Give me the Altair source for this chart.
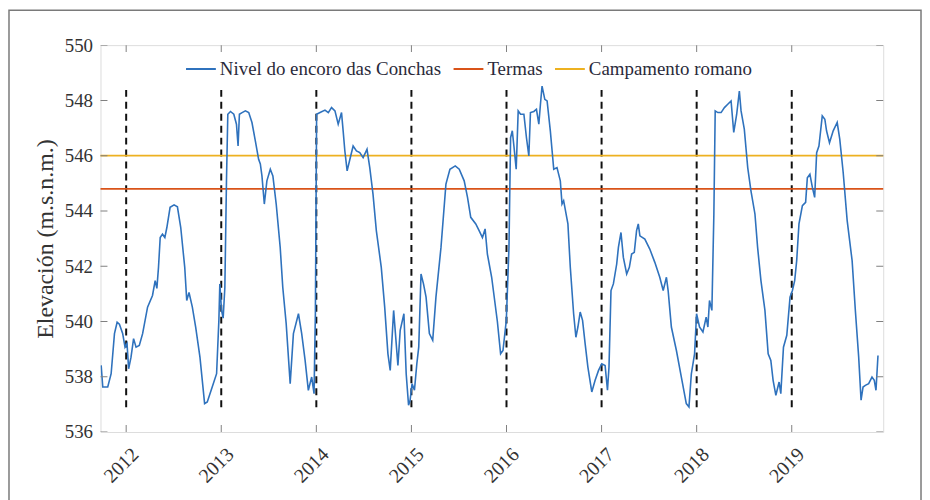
import altair as alt
import pandas as pd

# ---------------- data ----------------
years = [
    2011.737, 2011.754, 2011.806, 2011.842, 2011.877, 2011.905, 2011.929, 2011.963, 2011.988,
    2012.009, 2012.026, 2012.051, 2012.078, 2012.104, 2012.138, 2012.173, 2012.225, 2012.277,
    2012.305, 2012.323, 2012.340, 2012.358, 2012.382, 2012.407, 2012.428, 2012.462, 2012.504,
    2012.539, 2012.574, 2012.616, 2012.637, 2012.661, 2012.696, 2012.731, 2012.776, 2012.825,
    2012.853, 2012.905, 2012.951, 2012.975, 2012.985,
    2013.003, 2013.020, 2013.038, 2013.055, 2013.069, 2013.097, 2013.132, 2013.160, 2013.177,
    2013.191, 2013.219, 2013.254, 2013.289, 2013.323, 2013.359, 2013.393, 2013.411, 2013.428,
    2013.453, 2013.480, 2013.516, 2013.543, 2013.578, 2013.620, 2013.647, 2013.683, 2013.725,
    2013.759, 2013.812, 2013.846, 2013.882, 2013.916, 2013.951, 2013.976, 2013.990,
    2014.003, 2014.039, 2014.091, 2014.126, 2014.160, 2014.196, 2014.230, 2014.265, 2014.282,
    2014.300, 2014.324, 2014.353, 2014.387, 2014.422, 2014.457, 2014.492, 2014.533, 2014.562,
    2014.596, 2014.631, 2014.683, 2014.719, 2014.753, 2014.777, 2014.813, 2014.858, 2014.882,
    2014.921, 2014.945, 2014.970, 2014.986,
    2015.007, 2015.032, 2015.057, 2015.077, 2015.101, 2015.127, 2015.154, 2015.189, 2015.224,
    2015.258, 2015.311, 2015.363, 2015.405, 2015.461, 2015.503, 2015.555, 2015.590, 2015.624,
    2015.677, 2015.712, 2015.747, 2015.775, 2015.799, 2015.844, 2015.904, 2015.938, 2015.963,
    2015.998,
    2016.026, 2016.043, 2016.061, 2016.078, 2016.102, 2016.123, 2016.148, 2016.183, 2016.210,
    2016.235, 2016.252, 2016.288, 2016.315, 2016.340, 2016.357, 2016.374, 2016.403, 2016.427,
    2016.461, 2016.497, 2016.531, 2016.566, 2016.584, 2016.601, 2016.646, 2016.671, 2016.706,
    2016.730, 2016.751, 2016.775, 2016.800, 2016.827, 2016.856, 2016.897, 2016.932, 2016.968,
    2017.002, 2017.037, 2017.062, 2017.078, 2017.099, 2017.124, 2017.159, 2017.177, 2017.204,
    2017.229, 2017.264, 2017.292, 2017.316, 2017.344, 2017.368, 2017.386, 2017.403, 2017.455,
    2017.507, 2017.560, 2017.612, 2017.648, 2017.682, 2017.700, 2017.734, 2017.787, 2017.839,
    2017.891, 2017.919, 2017.944, 2017.978, 2017.999,
    2018.030, 2018.066, 2018.100, 2018.118, 2018.135, 2018.160, 2018.181, 2018.195, 2018.223,
    2018.257, 2018.292, 2018.327, 2018.362, 2018.390, 2018.421, 2018.449, 2018.467, 2018.501,
    2018.537, 2018.571, 2018.613, 2018.641, 2018.676, 2018.718, 2018.752, 2018.780, 2018.804,
    2018.833, 2018.867, 2018.885, 2018.913, 2018.948, 2018.982,
    2019.007, 2019.031, 2019.052, 2019.076, 2019.112, 2019.146, 2019.164, 2019.191, 2019.217,
    2019.241, 2019.262, 2019.286, 2019.321, 2019.348, 2019.366, 2019.397, 2019.436, 2019.478,
    2019.505, 2019.541, 2019.583, 2019.635, 2019.669, 2019.704, 2019.729, 2019.750, 2019.774,
    2019.809, 2019.844, 2019.868, 2019.886, 2019.907,
]

level = [
    538.41, 537.63, 537.63, 538.11, 539.56, 539.97, 539.90, 539.57, 539.07,
    539.20, 538.29, 538.71, 539.38, 539.07, 539.13, 539.56, 540.52, 540.94,
    541.48, 541.20, 541.96, 543.04, 543.16, 543.04, 543.40, 544.13, 544.22,
    544.15, 543.40, 541.96, 540.76, 541.05, 540.52, 539.80, 538.71, 537.03,
    537.09, 537.63, 538.11, 540.04, 541.36,
    540.40, 540.12, 541.24, 545.09, 547.50, 547.60, 547.50, 547.14, 546.35,
    547.50, 547.56, 547.62, 547.56, 547.20, 546.53, 545.87, 545.70, 545.27,
    544.25, 545.09, 545.51, 545.27, 544.25, 542.68, 541.24, 539.92, 537.75,
    539.56, 540.28, 539.56, 538.59, 537.51, 537.99, 537.39, 540.28,
    547.50, 547.56, 547.65, 547.56, 547.74, 547.62, 547.14, 547.56, 546.90,
    546.17, 545.45, 545.87, 546.35, 546.17, 546.11, 545.93, 546.23, 545.57,
    544.61, 543.29, 541.96, 540.52, 538.83, 538.23, 540.40, 538.41, 539.68,
    540.28, 538.11, 536.97, 537.15,
    537.75, 537.51, 538.47, 539.07, 541.72, 541.36, 540.88, 539.56, 539.32,
    540.88, 542.68, 544.97, 545.51, 545.63, 545.51, 545.09, 544.49, 543.77,
    543.53, 543.29, 543.04, 543.35, 542.44, 541.60, 540.00, 538.83, 538.95,
    540.04,
    542.68, 546.65, 546.90, 546.35, 545.51, 547.62, 547.50, 547.50, 546.65,
    545.99, 547.56, 547.60, 547.68, 547.14, 547.86, 548.52, 548.04, 547.98,
    546.90, 545.51, 545.57, 545.09, 544.25, 544.37, 543.53, 541.96, 540.28,
    539.43, 539.80, 540.34, 540.04, 539.20, 538.35, 537.45, 537.87, 538.23,
    538.47, 538.41, 537.51, 538.35, 541.12, 541.36, 542.08, 542.68, 543.22,
    542.32, 541.72, 541.96, 542.44, 542.50, 543.29, 543.53, 543.10, 542.98,
    542.62, 542.14, 541.60, 541.12, 541.60, 541.12, 539.80, 538.95, 537.99,
    537.03, 536.91, 538.10, 538.83, 540.28,
    539.80, 539.62, 540.16, 539.80, 540.76, 540.40, 543.89, 547.62, 547.56,
    547.56, 547.74, 547.86, 547.98, 546.84, 547.50, 548.34, 547.62, 546.96,
    545.57, 544.73, 543.89, 542.68, 541.48, 540.40, 538.83, 538.59, 537.87,
    537.33, 537.81, 537.39, 539.07, 539.50, 540.88,
    541.12, 541.48, 542.20, 543.53, 544.19, 544.31, 545.20, 545.33, 544.85,
    544.49, 546.11, 546.35, 547.44, 547.32, 546.90, 546.47, 546.90, 547.20,
    546.60, 545.39, 543.65, 542.20, 540.40, 538.71, 537.15, 537.63, 537.69,
    537.75, 537.99, 537.87, 537.51, 538.77,
]

series_names = ["Nivel do encoro das Conchas", "Termas", "Campamento romano"]
series_colors = ["#2f72bd", "#d95319", "#edb120"]
ref_levels = [544.8, 546.0]          # Termas, Campamento romano

year_ticks = [2012, 2013, 2014, 2015, 2016, 2017, 2018, 2019]
elev_ticks = [536, 538, 540, 542, 544, 546, 548, 550]
dash_bottom = [536.9] * len(year_ticks)
dash_top = [548.5] * len(year_ticks)

x_domain = [2011.73, 2019.962]
y_domain = [536, 550]

# ---------------- tables ----------------
df_line = pd.DataFrame({"t": years, "v": level, "serie": series_names[0]})
df_ref = pd.DataFrame({"serie": series_names[1:], "v": ref_levels})
df_dash = pd.DataFrame({"t": year_ticks, "y1": dash_bottom, "y2": dash_top})
df_xt = pd.DataFrame({"t": year_ticks})
df_yt = pd.DataFrame({"v": elev_ticks})

W, H = 787, 389
FONT = "Liberation Serif"
GRAY = "#808080"

xs = alt.Scale(domain=x_domain, nice=False, zero=False)
ys = alt.Scale(domain=y_domain, nice=False, zero=False)

color = alt.Color(
    "serie:N",
    scale=alt.Scale(domain=series_names, range=series_colors),
    legend=alt.Legend(
        orient="none", legendX=85, legendY=8, direction="horizontal", title=None,
        symbolType="stroke", symbolSize=900, symbolStrokeWidth=2,
        labelFont=FONT, labelFontSize=19, labelColor="#2a2a3a", labelLimit=0,
        labelOffset=3, columnPadding=8, padding=0,
    ),
    sort=series_names,
)

x_axis = alt.Axis(
    values=year_ticks, format="d", labelAngle=-45, labelAlign="right",
    labelBaseline="middle", labelPadding=19, labelOffset=9, ticks=False, domain=False,
    grid=False, title=None, labelFont=FONT, labelFontSize=20, labelColor="#333333",
)
y_axis = alt.Axis(
    values=elev_ticks, ticks=False, domain=False, grid=False,
    title="Elevación (m.s.n.m.)", titleFont=FONT, titleFontSize=24,
    titleFontWeight="normal", titleColor="#333333", titlePadding=7,
    labelFont=FONT, labelFontSize=19, labelColor="#333333", labelPadding=8,
)

line = alt.Chart(df_line).mark_line(strokeWidth=1.6, clip=True).encode(
    x=alt.X("t:Q", scale=xs, axis=x_axis),
    y=alt.Y("v:Q", scale=ys, axis=y_axis),
    color=color,
)

refs = alt.Chart(df_ref).mark_rule(strokeWidth=1.8).encode(
    y=alt.Y("v:Q", scale=ys),
    color=color,
)

dashes = alt.Chart(df_dash).mark_rule(
    strokeDash=[7, 5], strokeWidth=2, color="#111111"
).encode(
    x=alt.X("t:Q", scale=xs),
    y=alt.Y("y1:Q", scale=ys),
    y2="y2:Q",
)

tick_style = dict(thickness=1, size=14, color=GRAY, clip=True, opacity=1)
ticks_left = alt.Chart(df_yt).mark_tick(orient="horizontal", **tick_style).encode(
    y=alt.Y("v:Q", scale=ys), x=alt.value(0))
ticks_right = alt.Chart(df_yt).mark_tick(orient="horizontal", **tick_style).encode(
    y=alt.Y("v:Q", scale=ys), x=alt.value(W))
ticks_bottom = alt.Chart(df_xt).mark_tick(orient="vertical", **tick_style).encode(
    x=alt.X("t:Q", scale=xs), y=alt.value(H))
ticks_top = alt.Chart(df_xt).mark_tick(orient="vertical", **tick_style).encode(
    x=alt.X("t:Q", scale=xs), y=alt.value(0))

outer = alt.Chart(df_xt.head(1)).mark_rect(
    fillOpacity=0, stroke="#7a7a7a", strokeWidth=1.5
).encode(
    x=alt.value(-92), x2=alt.value(W + 38), y=alt.value(-35), y2=alt.value(H + 120)
)

chart = alt.layer(
    outer, dashes, refs, line, ticks_left, ticks_right, ticks_bottom, ticks_top
).properties(
    width=W, height=H,
    autosize=alt.AutoSizeParams(type="none"),
    padding={"left": 93, "top": 36, "right": 39, "bottom": 67},
    background="white",
).configure_view(
    stroke=GRAY, strokeWidth=1,
).configure(font=FONT)

chart.save("out.html", embed_options={"renderer": "svg", "actions": False})
